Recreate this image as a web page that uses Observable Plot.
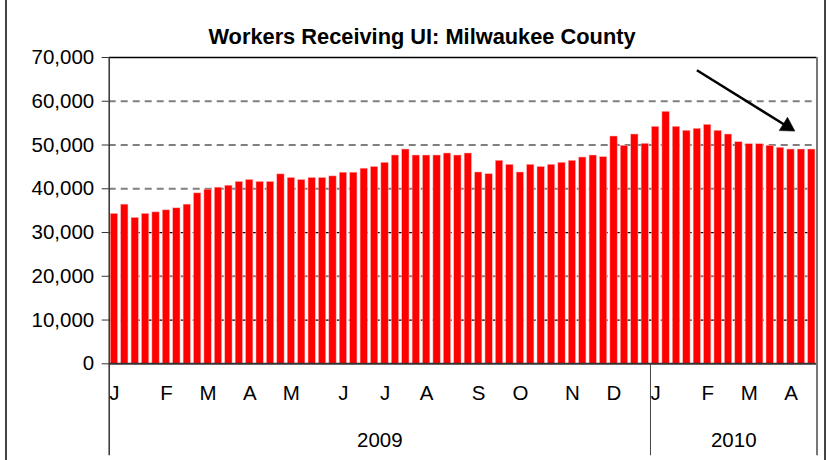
<!DOCTYPE html>
<html><head><meta charset="utf-8">
<script src="https://cdn.jsdelivr.net/npm/d3@7"></script>
<script src="https://cdn.jsdelivr.net/npm/@observablehq/plot@0.6"></script>
<style>
body{margin:0;background:#fff;}
#wrap{position:relative;width:827px;height:460px;overflow:hidden;font-family:"Liberation Sans",Arial,sans-serif;background:#fff;}
#title{position:absolute;top:26px;left:422px;transform:translateX(-50%);font-weight:bold;font-size:21.8px;line-height:21px;white-space:nowrap;color:#000;}
#chart{position:absolute;top:45px;left:0;}
.bl{position:absolute;top:0;bottom:0;width:2px;background:#444;}
</style></head><body>
<div id="wrap">
<div id="title">Workers Receiving UI: Milwaukee County</div>
<div id="chart"></div>
<div class="bl" style="left:5px"></div>
<div class="bl" style="left:824px"></div>
</div>
<script>
const weeks = [
 "2009-01-03","2009-01-10","2009-01-17","2009-01-24","2009-01-31",
 "2009-02-07","2009-02-14","2009-02-21","2009-02-28",
 "2009-03-07","2009-03-14","2009-03-21","2009-03-28",
 "2009-04-04","2009-04-11","2009-04-18","2009-04-25",
 "2009-05-02","2009-05-09","2009-05-16","2009-05-23","2009-05-30",
 "2009-06-06","2009-06-13","2009-06-20","2009-06-27",
 "2009-07-04","2009-07-11","2009-07-18","2009-07-25",
 "2009-08-01","2009-08-08","2009-08-15","2009-08-22","2009-08-29",
 "2009-09-05","2009-09-12","2009-09-19","2009-09-26",
 "2009-10-03","2009-10-10","2009-10-17","2009-10-24","2009-10-31",
 "2009-11-07","2009-11-14","2009-11-21","2009-11-28",
 "2009-12-05","2009-12-12","2009-12-19","2009-12-26",
 "2010-01-02","2010-01-09","2010-01-16","2010-01-23","2010-01-30",
 "2010-02-06","2010-02-13","2010-02-20","2010-02-27",
 "2010-03-06","2010-03-13","2010-03-20","2010-03-27",
 "2010-04-03","2010-04-10","2010-04-17"
];
const claims = [
 34250,36370,33330,34250,34600,35070,35530,36370,38950,39800,40250,40700,41550,
 42000,41550,41550,43290,42460,42000,42460,42460,42830,43670,43670,44590,44970,
 45930,47600,48970,47600,47600,47600,48060,47600,48060,43720,43330,46390,45470,
 43720,45470,44970,45470,45930,46390,47140,47600,47220,51940,49820,52400,50270,
 54150,57580,54150,53240,53700,54610,53240,52400,50640,50180,50180,49820,49360,
 48970,48970,48970
];
const monthLetters = ["J","F","M","A","M","J","J","A","S","O","N","D"];
const years = ["2009","2010"];
const yTicks = [0,10000,20000,30000,40000,50000,60000,70000];
const gridBlack = [10000,30000,50000];
const gridGray = [20000,40000,60000];
const trendArrow = [{fromWeek:56, fromValue:66600, toWeek:65, toValue:53300}];

const rows = weeks.map((w,i)=>({i, week:w, value:claims[i], month:+w.slice(5,7)-1, year:w.slice(0,4)}));
const monthStarts = rows.filter((r,k)=>k===0 || r.month!==rows[k-1].month).map(r=>r.i);
const yearGroups = years.map(y=>{
  const rs = rows.filter(r=>r.year===y);
  return {year:y, start:rs[0].i, count:rs.length, mid:rs[0].i + Math.floor(rs.length/2)};
});

const W = 827, H = 415, mL = 108.7, mR = 10.5, mT = 12, mB = 96.7;
const pI = 0.3, pO = 0.15;
const step = (W - mL - mR) / (weeks.length - pI + 2*pO);
const plotH = H - mT - mB;

// arrow head geometry (screen px) relative to the arrow tip
const headBack = 8, ux = 0.848, uy = 0.53;

const chart = Plot.plot({
  width: W, height: H,
  marginLeft: mL, marginRight: mR, marginTop: mT, marginBottom: mB,
  style: {fontFamily: '"Liberation Sans", Arial, sans-serif', background: "transparent", overflow: "visible", color:"#000"},
  x: {type: "band", domain: rows.map(r=>r.i), paddingInner: pI, paddingOuter: pO, round: false, label: null},
  y: {domain: [0, 70000], label: null},
  marks: [
    Plot.ruleY(gridGray, {stroke: "#808080", strokeWidth: 2, strokeDasharray: "7,5"}),
    Plot.ruleY(gridBlack, {stroke: "#000", strokeWidth: 1.2, strokeDasharray: "7,5"}),
    Plot.ruleY([70000], {stroke: "#000", strokeWidth: 1.5}),
    Plot.barY(rows, {x: "i", y: "value", fill: "#ff0000", stroke: "#ffb0b0", strokeWidth: 0.5}),
    Plot.ruleY([0], {stroke: "#333", strokeWidth: 2}),
    Plot.ruleX([rows[0].i], {dx: -step/2, stroke: "#333", strokeWidth: 1.5, insetBottom: -92}),
    Plot.ruleX([rows[rows.length-1].i], {dx: step/2, stroke: "#777", strokeWidth: 2, insetBottom: -92}),
    Plot.ruleX(yearGroups.slice(1), {x: "start", dx: -step/2, stroke: "#444", strokeWidth: 1, insetTop: plotH, insetBottom: -92}),
    Plot.axisY({ticks: yTicks, tickFormat: d3.format(","), tickSize: 7, tickPadding: 8, fontSize: 20.5, stroke: "#333"}),
    Plot.axisX({ticks: monthStarts, tickFormat: i => monthLetters[rows[i].month], tickSize: 0, tickPadding: 22, fontSize: 20.5}),
    Plot.text(yearGroups, {x: "mid", text: "year", dx: -step/2, frameAnchor: "bottom", dy: 83, fontSize: 20.5}),
    Plot.link(trendArrow, {x1: "fromWeek", y1: "fromValue", x2: "toWeek", y2: "toValue", dx: 3 - ux*4, dy: -uy*4, stroke: "#000", strokeWidth: 2.5}),
    Plot.dot(trendArrow, {x: "toWeek", y: "toValue", dx: 3 - ux*headBack, dy: -uy*headBack, symbol: "triangle", r: 5.8, rotate: 122, fill: "#000", stroke: "#000", strokeWidth: 0.5})
  ]
});
document.getElementById("chart").appendChild(chart);
</script>
</body></html>
